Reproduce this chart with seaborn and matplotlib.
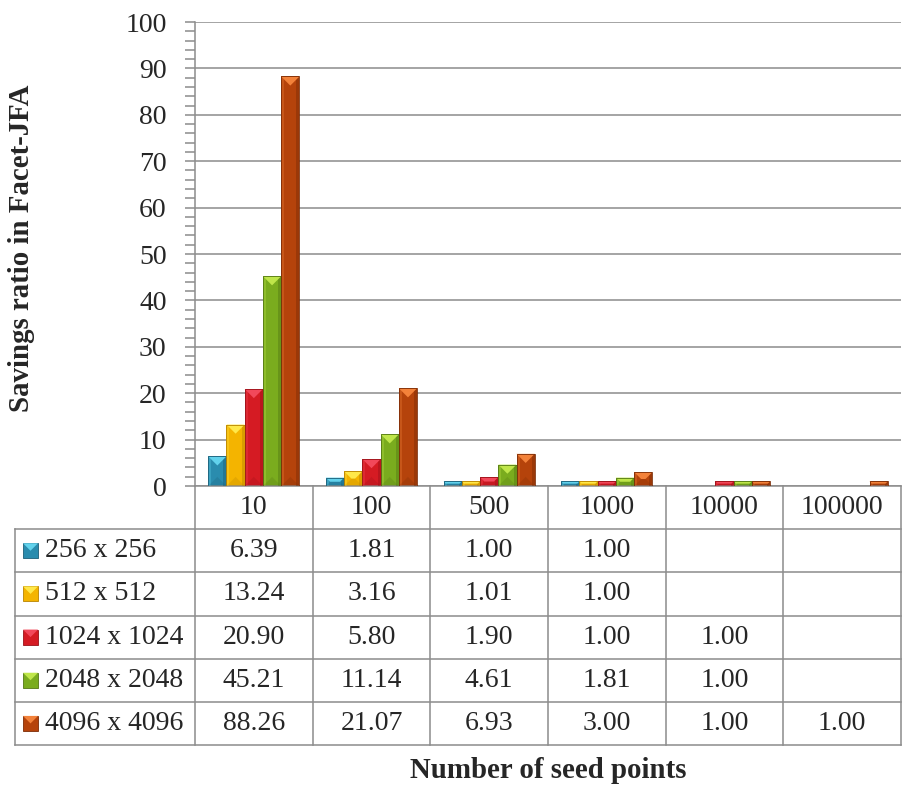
import matplotlib
matplotlib.use("Agg")
import matplotlib.pyplot as plt
from matplotlib.patches import Polygon, Rectangle
from matplotlib.ticker import MultipleLocator
import numpy as np
import pandas as pd
import seaborn as sns

# ---- data -------------------------------------------------------------
seed_points = ["10", "100", "500", "1000", "10000", "100000"]
resolutions = ["256 x 256", "512 x 512", "1024 x 1024", "2048 x 2048", "4096 x 4096"]
ratio_256 = [6.39, 1.81, 1.00, 1.00, np.nan, np.nan]
ratio_512 = [13.24, 3.16, 1.01, 1.00, np.nan, np.nan]
ratio_1024 = [20.90, 5.80, 1.90, 1.00, 1.00, np.nan]
ratio_2048 = [45.21, 11.14, 4.61, 1.81, 1.00, np.nan]
ratio_4096 = [88.26, 21.07, 6.93, 3.00, 1.00, 1.00]
series = [ratio_256, ratio_512, ratio_1024, ratio_2048, ratio_4096]

# base, light (top facet) and dark (bottom/right facet) shades per series
base_colors = ["#2a8cae", "#f4b400", "#d51b23", "#7aac1e", "#b5430b"]
light_colors = ["#62d2ec", "#ffe84a", "#f2485a", "#bfe64a", "#f3823a"]
dark_colors = ["#1c5f78", "#b88300", "#9a1118", "#537714", "#7c2c06"]

# ---- style ------------------------------------------------------------
sns.set_style("white")
plt.rcParams["font.family"] = ["Liberation Serif", "DejaVu Serif"]
GRID = "#8c8c8c"
FS = 20
TITLE_FS = 20.8

W, H = 903, 791
fig = plt.figure(figsize=(W / 100, H / 100), dpi=100)


def frame(left, top, right, bottom):
    return [left / W, 1 - bottom / H, (right - left) / W, (bottom - top) / H]


ax = fig.add_axes(frame(195, 22, 901, 486))
tax = fig.add_axes(frame(15, 486, 901, 745))

rows = []
for name, vals in zip(resolutions, series):
    for cat, v in zip(seed_points, vals):
        if not np.isnan(v):
            rows.append({"seeds": cat, "resolution": name, "ratio": v})
df = pd.DataFrame(rows)

sns.barplot(data=df, x="seeds", y="ratio", hue="resolution",
            order=seed_points, hue_order=resolutions,
            palette=base_colors, width=0.775, errorbar=None,
            saturation=1, linewidth=0, legend=False, ax=ax)

ax.set_xlim(-0.5, 5.5)
ax.set_ylim(0, 100)
ax.set_xticks([])
ax.set_xlabel("")
ax.set_ylabel("")
ax.set_yticks(range(0, 101, 10))
ax.yaxis.set_minor_locator(MultipleLocator(2))
ax.tick_params(axis="y", which="both", direction="out", length=7.5,
               width=1.1, color=GRID, pad=13, labelsize=FS, left=True)
ax.yaxis.grid(True, color=GRID, linewidth=1.1)
ax.set_axisbelow(True)
for side in ("top", "right"):
    ax.spines[side].set_visible(False)
for side in ("left", "bottom"):
    ax.spines[side].set_color(GRID)
    ax.spines[side].set_linewidth(1.1)

# ---- bevelled bar faces ----------------------------------------------
ax_w_px = (901 - 195)
ax_h_px = (486 - 22)
ux = 6 / ax_w_px      # data units per pixel, x
uy = 100 / ax_h_px    # data units per pixel, y


def bevel(axis, x0, w, h, k, ux, uy):
    w_px, h_px = w / ux, h / uy
    d = min(w_px / 2, h_px / 2)
    dx, dy = d * ux, d * uy
    s = 3 * ux
    x1 = x0 + w
    # left highlight and right shade strips
    axis.add_patch(Rectangle((x0, 0), s, h, facecolor=light_colors[k],
                             alpha=0.3, linewidth=0, zorder=3))
    axis.add_patch(Rectangle((x1 - s, 0), s, h, facecolor=dark_colors[k],
                             alpha=0.45, linewidth=0, zorder=3))
    # top facet
    axis.add_patch(Polygon([(x0, h), (x1, h), (x1 - dx, h - dy), (x0 + dx, h - dy)],
                           closed=True, facecolor=light_colors[k],
                           linewidth=0, zorder=4))
    # bottom facet
    axis.add_patch(Polygon([(x0, 0), (x1, 0), (x1 - dx, dy), (x0 + dx, dy)],
                           closed=True, facecolor=dark_colors[k], alpha=0.25,
                           linewidth=0, zorder=4))
    axis.add_patch(Rectangle((x0, 0), w, h, facecolor="none",
                             edgecolor=dark_colors[k], linewidth=0.6, zorder=5))


for k, cont in enumerate(ax.containers):
    for p in cont.patches:
        h = p.get_height()
        if np.isnan(h) or h <= 0:
            continue
        bevel(ax, p.get_x(), p.get_width(), h, k, ux, uy)

# ---- data table -------------------------------------------------------
px_per_unit = ax_w_px / 6
xl = -0.5 - (195 - 15) / px_per_unit
tax.set_xlim(xl, 5.5)
tax.set_ylim(6, 0)
tax.axis("off")
line_kw = dict(color=GRID, linewidth=1.1, clip_on=False, solid_capstyle="projecting")
nrows = len(resolutions) + 1
for r in range(1, nrows + 1):
    tax.plot([xl, 5.5], [r, r], **line_kw)
for i in range(len(seed_points) + 1):
    tax.plot([i - 0.5, i - 0.5], [0, nrows], **line_kw)
tax.plot([xl, xl], [1, nrows], **line_kw)

for i, cat in enumerate(seed_points):
    tax.text(i, 0.5, cat, ha="center", va="center", fontsize=FS)

uxt = 1 / px_per_unit
uyt = nrows / (745 - 486)
for k, (name, vals) in enumerate(zip(resolutions, series)):
    yc = k + 1.5
    # legend key
    kx0, kw = xl + 8 * uxt, 15 * uxt
    kh = 15 * uyt
    tax.add_patch(Rectangle((kx0, yc - kh / 2), kw, kh, facecolor=base_colors[k],
                            edgecolor=dark_colors[k], linewidth=0.6, clip_on=False))
    tax.add_patch(Polygon([(kx0, yc - kh / 2), (kx0 + kw, yc - kh / 2),
                           (kx0 + kw / 2, yc)], closed=True,
                          facecolor=light_colors[k], linewidth=0, clip_on=False))
    tax.text(xl + 30 * uxt, yc, name, ha="left", va="center", fontsize=FS)
    for i, v in enumerate(vals):
        if not np.isnan(v):
            tax.text(i, yc, f"{v:.2f}", ha="center", va="center", fontsize=FS)

# ---- axis titles ------------------------------------------------------
fig.text(22 / W, 1 - 248 / H, "Savings ratio in Facet-JFA", rotation=90,
         ha="center", va="center", fontsize=TITLE_FS, fontweight="bold")
fig.text(548 / W, 1 - 770 / H, "Number of seed points",
         ha="center", va="center", fontsize=TITLE_FS, fontweight="bold")

fig.savefig("out.png", dpi=100)
